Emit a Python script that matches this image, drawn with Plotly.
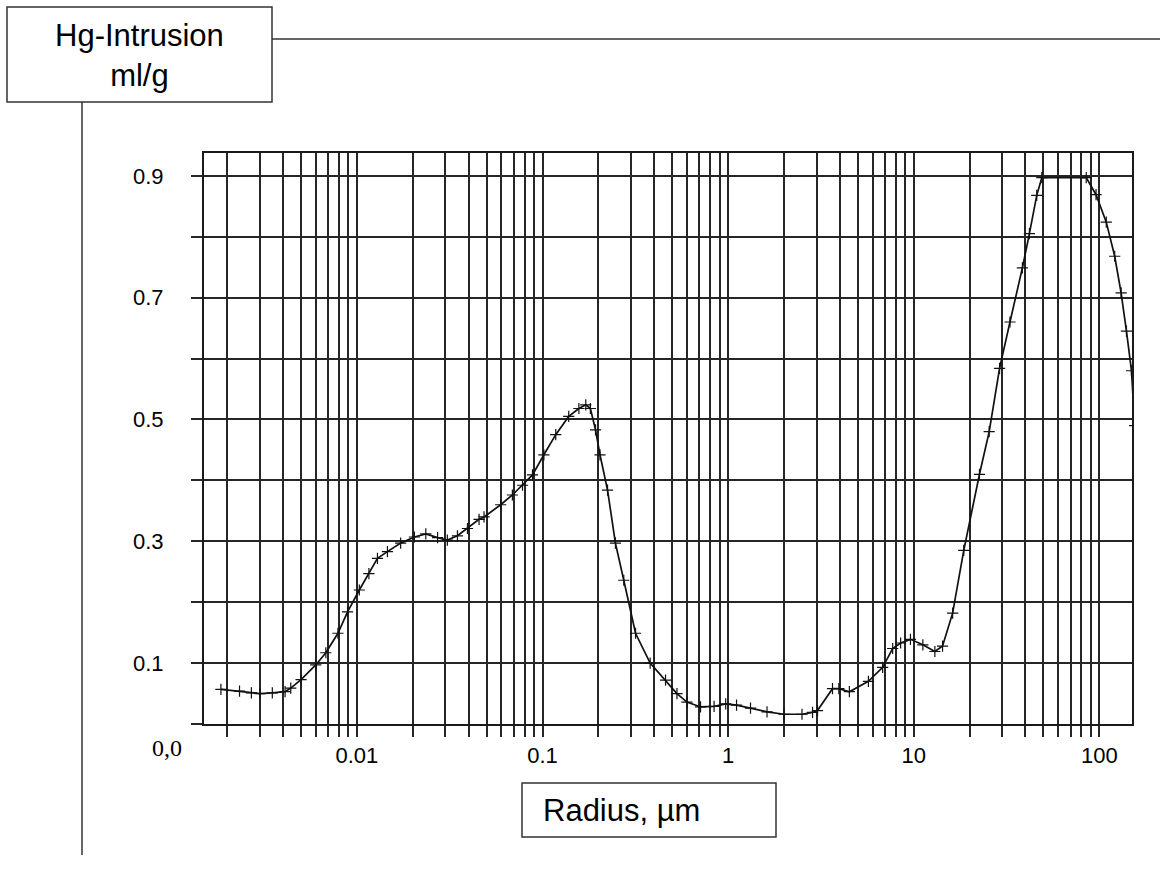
import plotly.graph_objects as go

# ---- data ----
radius_um = [0.00185, 0.00233, 0.0027, 0.0030, 0.0035, 0.0041, 0.0044, 0.0050, 0.0060, 0.0068,
             0.0079, 0.0089, 0.0103, 0.0116, 0.0129, 0.0146, 0.0172, 0.0204, 0.0235, 0.0272,
             0.0307, 0.0348, 0.0394, 0.0455, 0.0484, 0.0595, 0.0688, 0.0780, 0.0883, 0.1017,
             0.1178, 0.1384, 0.157, 0.171, 0.181, 0.193, 0.204, 0.224, 0.247, 0.274,
             0.317, 0.38, 0.46, 0.53, 0.60, 0.71, 0.84, 0.97, 1.11, 1.32,
             1.62, 2.0, 2.5, 2.85, 3.03, 3.65, 3.95, 4.5, 5.7, 6.8,
             7.7, 8.5, 9.6, 11.2, 13.0, 14.3, 16.2, 18.6, 22.6, 25.5,
             29.0, 33.0, 38.5, 42.0, 46.0, 49.0, 85.0, 96.0, 109.0, 121.0,
             131.0, 140.0, 149.0, 155.0]
intrusion_ml_g = [0.057, 0.054, 0.051, 0.050, 0.051, 0.053, 0.059, 0.073, 0.097, 0.117,
                  0.149, 0.184, 0.220, 0.247, 0.272, 0.283, 0.297, 0.307, 0.312, 0.306,
                  0.302, 0.309, 0.321, 0.336, 0.340, 0.360, 0.376, 0.392, 0.409, 0.442,
                  0.475, 0.505, 0.518, 0.524, 0.518, 0.483, 0.442, 0.384, 0.297, 0.236,
                  0.149, 0.100, 0.072, 0.050, 0.036, 0.028, 0.029, 0.033, 0.031, 0.026,
                  0.020, 0.016, 0.016, 0.019, 0.022, 0.058, 0.058, 0.053, 0.070, 0.093,
                  0.124, 0.133, 0.139, 0.130, 0.119, 0.128, 0.182, 0.285, 0.410, 0.480,
                  0.584, 0.660, 0.749, 0.805, 0.868, 0.897, 0.897, 0.869, 0.824, 0.768,
                  0.708, 0.645, 0.580, 0.490]

x_grid = [m * 10.0 ** e for e in (-3, -2, -1, 0, 1) for m in range(1, 10)] + [100]
x_grid = [v for v in x_grid if v >= 0.0019]
x_labels = {0.01: "0.01", 0.1: "0.1", 1: "1", 10: "10", 100: "100"}
y_grid = [0.0, 0.1, 0.2, 0.3, 0.4, 0.5, 0.6, 0.7, 0.8, 0.9]
y_labels = {0.1: "0.1", 0.3: "0.3", 0.5: "0.5", 0.7: "0.7", 0.9: "0.9"}

y_title = "Hg-Intrusion<br>ml/g"
x_title = "Radius, µm"
origin_label = "0,0"

# ---- layout geometry (pixels) ----
W, H = 1160, 870
L, R, T, B = 204, 1132, 153, 724


def px(xp):
    return (xp - L) / (R - L)


def py(yp):
    return (B - yp) / (B - T)


def near(a, b):
    return abs(a - b) < 1e-9 * max(1, abs(b))


x_text = []
for v in x_grid:
    lab = ""
    for k, t in x_labels.items():
        if near(v, k):
            lab = t
    x_text.append(lab)
y_text = []
for v in y_grid:
    lab = ""
    for k, t in y_labels.items():
        if near(v, k):
            lab = t
    y_text.append(lab)

fig = go.Figure()
fig.add_trace(go.Scatter(
    x=radius_um, y=intrusion_ml_g, mode="lines+markers",
    line=dict(color="#111", width=1.7),
    marker=dict(symbol="cross-thin", size=8, line=dict(color="#111", width=1.2)),
    showlegend=False, hoverinfo="x+y",
))

axis_font = dict(family="Liberation Sans, Arial, sans-serif", size=22, color="#000")
grid_col = "#262626"
fig.update_layout(
    width=W, height=H,
    margin=dict(l=L, r=W - R, t=T, b=H - B, pad=0),
    paper_bgcolor="white", plot_bgcolor="white",
    xaxis=dict(
        type="log", range=[-2.824, 2.176],
        tickmode="array", tickvals=x_grid, ticktext=x_text,
        showgrid=True, gridcolor=grid_col, gridwidth=1.8,
        ticks="outside", ticklen=11, tickwidth=1.8, tickcolor=grid_col,
        tickfont=axis_font, ticklabelstandoff=0,
        showline=True, linecolor="#1a1a1a", linewidth=2, mirror=True,
        zeroline=False,
    ),
    yaxis=dict(
        range=[0, 0.9375],
        tickmode="array", tickvals=y_grid, ticktext=y_text,
        showgrid=True, gridcolor=grid_col, gridwidth=1.8,
        ticks="outside", ticklen=11, tickwidth=1.8, tickcolor=grid_col,
        tickfont=axis_font, ticklabelstandoff=23,
        showline=True, linecolor="#1a1a1a", linewidth=2, mirror=True,
        zeroline=False,
    ),
)

box_line = dict(color="#333", width=1.5)
shapes = [
    dict(type="rect", xref="paper", yref="paper", x0=px(7), x1=px(272), y0=py(102), y1=py(7),
         line=box_line, fillcolor="white", layer="above"),
    dict(type="line", xref="paper", yref="paper", x0=px(272), x1=px(1162), y0=py(39), y1=py(39),
         line=box_line),
    dict(type="line", xref="paper", yref="paper", x0=px(82), x1=px(82), y0=py(102), y1=py(855),
         line=box_line),
    dict(type="rect", xref="paper", yref="paper", x0=px(522), x1=px(776), y0=py(837), y1=py(783),
         line=box_line, fillcolor="white"),
]
fig.update_layout(shapes=shapes)

fig.add_annotation(xref="paper", yref="paper", x=px(139.5), y=py(56), text=y_title,
                   showarrow=False, xanchor="center", yanchor="middle", align="center",
                   font=dict(family="Liberation Sans, Arial, sans-serif", size=31, color="#000"))
fig.add_annotation(xref="paper", yref="paper", x=px(541), y=py(810), text=x_title,
                   showarrow=False, xanchor="left", yanchor="middle",
                   font=dict(family="Liberation Sans, Arial, sans-serif", size=31, color="#000"))
fig.add_annotation(xref="paper", yref="paper", x=px(167), y=py(748), text=origin_label,
                   showarrow=False, xanchor="center", yanchor="middle",
                   font=dict(family="Liberation Serif, Times New Roman, serif", size=24, color="#000"))

fig.write_html(
    "out.html",
    config={"displayModeBar": False},
    post_script="document.body.style.margin='0';document.body.style.overflow='hidden';",
)
